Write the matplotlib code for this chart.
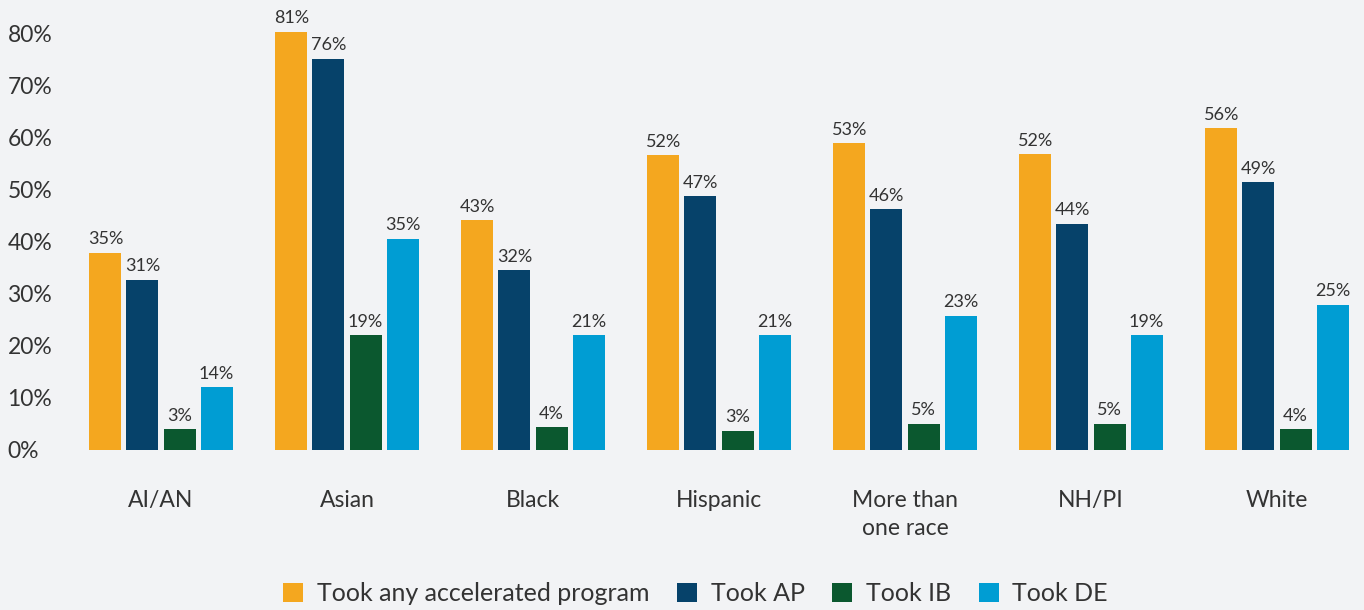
import numpy as np
import matplotlib
matplotlib.use('Agg')
import matplotlib.pyplot as plt

# categories and series (bar heights, labels as printed)
groups = ['AI/AN', 'Asian', 'Black', 'Hispanic', 'More than\none race', 'NH/PI', 'White']
series = ['Took any accelerated program', 'Took AP', 'Took IB', 'Took DE']
any_prog = [37.9, 80.4, 44.2, 56.7, 59.0, 56.9, 61.9]
took_ap = [32.7, 75.2, 34.6, 48.8, 46.3, 43.5, 51.5]
took_ib = [4.0, 22.1, 4.4, 3.7, 5.0, 5.0, 4.0]
took_de = [12.1, 40.6, 22.1, 22.1, 25.8, 22.1, 27.9]
lbl_any = ['35%', '81%', '43%', '52%', '53%', '52%', '56%']
lbl_ap = ['31%', '76%', '32%', '47%', '46%', '44%', '49%']
lbl_ib = ['3%', '19%', '4%', '3%', '5%', '5%', '4%']
lbl_de = ['14%', '35%', '21%', '21%', '23%', '19%', '25%']
colors = ['#F4A71F', '#06426A', '#0B582F', '#009DD3']

plt.rcParams['font.family'] = ['Lato', 'DejaVu Sans']
bg = '#F2F3F5'

fig = plt.figure(figsize=(13.64, 6.10), dpi=100, facecolor=bg)
ax = fig.add_axes([70 / 1364, 160 / 610, 1294 / 1364, 442 / 610], facecolor=bg)

x = np.arange(len(groups))
w = 0.172
step = 0.199
offsets = np.array([-1.5, -0.5, 0.5, 1.5]) * step
for vals, labels, off, c, name in zip([any_prog, took_ap, took_ib, took_de],
                                      [lbl_any, lbl_ap, lbl_ib, lbl_de],
                                      offsets, colors, series):
    bars = ax.bar(x + off, vals, width=w, color=c, label=name)
    for b, t in zip(bars, labels):
        ax.annotate(t, (b.get_x() + b.get_width() / 2, b.get_height()),
                    xytext=(0, 4), textcoords='offset points',
                    ha='center', va='bottom', fontsize=13, color='#333333')

ax.set_xlim((70 - 161) / 186, (1364 - 161) / 186)
ax.set_ylim(0, 85)
ax.set_yticks(range(0, 81, 10))
ax.set_yticklabels([f'{v}%' for v in range(0, 81, 10)], fontsize=16.5, color='#333333')
for t in ax.get_yticklabels():
    t.set_ha('left')
ax.tick_params(axis='y', length=0, pad=45)
ax.set_xticks(x)
ax.set_xticklabels(groups, fontsize=16.5, color='#333333', linespacing=1.42)
ax.tick_params(axis='x', length=0, pad=29)
for s in ax.spines.values():
    s.set_visible(False)

fig.legend(loc='lower center', bbox_to_anchor=(0.51, -0.029), ncol=4, frameon=False,
           fontsize=18, handlelength=0.8, handleheight=0.8, handletextpad=0.55,
           columnspacing=1.1, labelcolor='#333333')

plt.savefig('out.png', dpi=100, facecolor=bg)
